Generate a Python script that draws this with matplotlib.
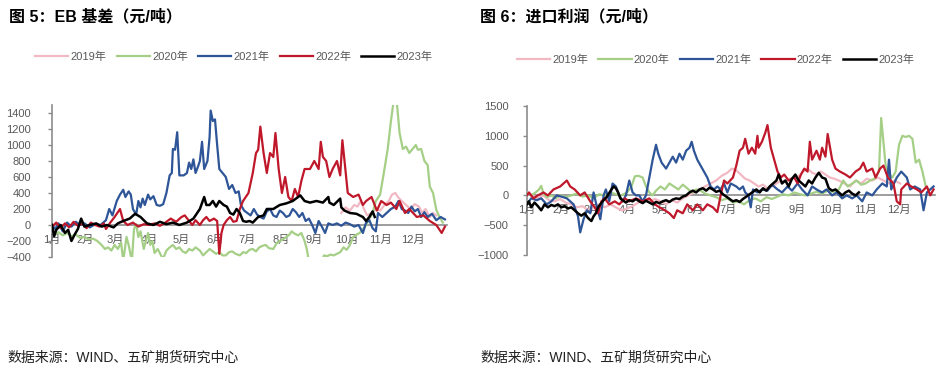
import matplotlib.pyplot as plt

plt.rcParams['font.family'] = ['Liberation Sans', 'Noto Sans CJK SC', 'DejaVu Sans']

# --- 月份刻度 ---
month_days = [0, 31, 59, 90, 120, 151, 181, 212, 243, 273, 304, 334]
month_labels = ['1月', '2月', '3月', '4月', '5月', '6月', '7月', '8月', '9月', '10月', '11月', '12月']
year_labels = ['2019年', '2020年', '2021年', '2022年', '2023年']
year_colors = ['#F2B8C3', '#A5CF86', '#2E5597', '#C0182B', '#000000']

# --- 图5：EB 基差 (day of year, 元/吨) ---
eb19_day = [268, 272, 276, 280, 283, 286, 289, 292, 296, 300, 304, 308, 312, 315, 318, 321, 324, 328,
            332, 336, 340, 343, 346, 350, 353, 356]
eb19_val = [150, 220, 180, 250, 230, 300, 200, 120, 150, 200, 180, 250, 300, 380, 400, 340, 300, 250,
            200, 260, 230, 150, 200, 100, 150, 120]

eb20_day = [0, 3, 6, 10, 14, 18, 22, 26, 30, 34, 38, 42, 46, 49, 52, 55, 58, 61, 64, 66, 69, 71, 74, 76,
            78, 80, 82, 85, 87, 89, 91, 93, 95, 98, 101, 103, 106, 109, 112, 115, 118, 121, 124, 127, 130,
            133, 137, 140, 143, 146, 149, 152, 155, 158, 161, 164, 167, 170, 174, 177, 180, 183, 186, 189,
            192, 195, 198, 201, 205, 208, 211, 214, 217, 220, 222, 225, 228, 231, 234, 236, 238, 245, 250,
            252, 255, 258, 261, 264, 267, 270, 273, 276, 279, 282, 285, 288, 291, 294, 297, 300, 304, 308,
            311, 314, 317, 319, 322, 325, 328, 331, 334, 337, 339, 342, 345, 348, 350, 353, 356, 359, 362]
eb20_val = [-80, -120, -90, -130, -100, -140, -120, -160, -150, -180, -170, -200, -250, -300, -280, -320,
            -250, -300, -220, -450, -150, -250, -450, -50, 10, -150, -80, -300, -200, -100, -250, -200,
            -350, -300, -380, -420, -320, -280, -250, -300, -280, -330, -350, -300, -320, -280, -320, -380,
            -340, -300, -330, -360, -340, -380, -380, -340, -330, -360, -380, -340, -350, -310, -300, -330,
            -280, -260, -250, -290, -300, -230, -200, -180, -150, -120, -80, -110, -130, -100, -200, -300,
            -450, -500, -450, -380, -390, -370, -380, -360, -340, -280, -310, -250, -150, -120, -100, -50,
            0, 80, 150, 300, 380, 700, 950, 1300, 1600, 1600, 1150, 950, 980, 900, 950, 1000, 940, 950, 800,
            750, 480, 400, 190, 100, 30]

eb21_day = [0, 3, 6, 10, 14, 18, 22, 26, 30, 35, 40, 45, 50, 53, 56, 60, 63, 66, 68, 71, 73, 75, 78, 80,
            82, 84, 86, 89, 91, 94, 97, 100, 103, 106, 109, 111, 112, 114, 116, 118, 122, 125, 127, 129, 131,
            133, 135, 137, 139, 141, 144, 146, 147, 149, 151, 153, 155, 158, 161, 164, 167, 170, 173, 175,
            178, 181, 184, 187, 190, 193, 196, 199, 202, 205, 208, 211, 214, 217, 220, 223, 226, 229, 232,
            235, 238, 241, 244, 247, 250, 253, 256, 260, 264, 268, 272, 276, 280, 284, 288, 291, 294, 297,
            300, 302, 306, 310, 314, 318, 321, 324, 327, 330, 333, 336, 339, 342, 345, 348, 352, 356, 360, 364]
eb21_val = [0, -50, 20, -80, 30, -20, 40, 0, 20, -30, 10, 0, 60, 200, 120, 300, 380, 440, 350, 420, 380,
            200, 130, 300, 220, 330, 250, 380, 320, 360, 250, 240, 260, 400, 620, 650, 950, 940, 1160, 620,
            620, 650, 780, 700, 820, 650, 720, 800, 1040, 700, 800, 1100, 1430, 1300, 1320, 1000, 700, 650,
            600, 450, 500, 400, 420, 250, 180, 150, 120, 200, 130, 100, 80, 170, 200, 120, 100, 180, 150,
            100, 120, 200, 160, 100, 150, 50, 80, 0, -100, 50, -20, -100, 20, 0, 20, -10, 30, 10, -20, 0,
            -100, 30, 60, -40, -80, 150, 100, 150, 200, 230, 300, 200, 180, 150, 230, 170, 200, 100, 160,
            100, 140, 60, 100, 70]

eb22_day = [0, 4, 8, 12, 16, 20, 24, 28, 32, 36, 40, 44, 48, 50, 54, 58, 63, 66, 70, 75, 80, 85, 90, 95,
            100, 105, 110, 115, 120, 123, 127, 130, 133, 137, 140, 143, 146, 150, 153, 155, 157, 159, 162,
            165, 168, 171, 174, 177, 182, 186, 189, 191, 193, 196, 199, 202, 205, 207, 210, 213, 216, 219,
            222, 225, 228, 231, 234, 239, 243, 247, 249, 251, 254, 257, 260, 264, 267, 269, 271, 274, 279,
            284, 288, 291, 296, 301, 305, 310, 314, 319, 322, 327, 331, 338, 344, 350, 356, 361, 364]
eb22_val = [-20, 30, -40, 20, -30, 40, -10, 20, -40, 30, 0, -20, 20, -50, 30, 100, 200, 50, 0, 30, -20, 10,
            0, 20, -10, 30, 80, 40, 100, 120, 50, 0, 60, 0, 60, 100, 50, 80, 50, -360, -100, 0, 60, 100,
            40, 50, 200, 300, 400, 650, 900, 940, 1230, 900, 650, 900, 850, 1150, 700, 400, 600, 350, 300,
            450, 350, 550, 700, 700, 800, 700, 1040, 850, 800, 600, 700, 800, 620, 1060, 800, 400, 350, 380,
            250, 300, 350, 180, 300, 250, 280, 200, 300, 150, 200, 100, 120, 50, 0, -100, -20]

eb23_day = [0, 2, 4, 8, 12, 15, 18, 21, 24, 27, 30, 35, 41, 46, 51, 57, 61, 66, 72, 77, 82, 88, 94, 100,
            106, 112, 118, 125, 131, 137, 141, 143, 146, 149, 152, 155, 159, 162, 165, 168, 171, 174, 177,
            180, 183, 186, 191, 196, 199, 205, 211, 217, 223, 230, 234, 239, 245, 251, 256, 257, 261, 267,
            268, 271, 276, 282, 288, 291, 294, 297, 299]
eb23_val = [0, -140, -60, 0, -100, -60, -200, -120, -50, 80, -20, 0, 20, -20, 0, -30, 20, 50, 80, 140, 100,
            20, 0, 40, 10, 30, 0, 30, 80, 200, 350, 250, 250, 300, 230, 300, 250, 230, 150, 130, 200, 150,
            50, 40, 50, 30, 100, 120, 200, 200, 250, 270, 300, 370, 300, 280, 300, 280, 350, 280, 250, 330,
            220, 180, 150, 140, 100, 50, 100, 170, 100]

# --- 图6：进口利润 (day of year, 元/吨) ---
ip19_day = [0, 5, 10, 15, 20, 25, 30, 35, 40, 45, 50, 55, 60, 65, 70, 75, 80, 85, 90, 95, 100, 105, 110,
            115, 120, 125, 130, 135, 140, 145, 150, 155, 160, 165, 170, 175, 180, 184, 188, 192, 196, 200,
            204, 208, 212, 216, 220, 224, 228, 232, 236, 240, 244, 248, 252, 256, 260, 264, 268, 272, 276,
            280, 285, 290, 295, 300, 305, 310, 315, 320, 325, 330, 335]
ip19_val = [50, 0, -50, 0, -80, -100, -60, -120, -150, -200, -180, -250, -200, -150, -200, -150, -200,
            -250, -220, -180, -120, -80, -100, -60, -100, -150, -80, -120, -50, 0, 50, 100, 150, 200, 250,
            330, 380, 450, 420, 350, 280, 250, 200, 150, 180, 120, 150, 200, 250, 230, 280, 300, 320, 400,
            450, 380, 350, 400, 350, 300, 280, 250, 200, 150, 250, 200, 280, 250, 300, 250, 200, 250, 200]

ip20_day = [0, 4, 8, 11, 13, 15, 18, 22, 26, 30, 35, 40, 45, 50, 55, 60, 65, 70, 75, 80, 85, 90, 94, 97,
            100, 104, 107, 110, 113, 116, 120, 124, 128, 132, 136, 140, 144, 148, 152, 156, 160, 165, 170,
            175, 180, 185, 190, 195, 200, 205, 210, 215, 220, 225, 230, 235, 240, 245, 250, 255, 260, 265,
            270, 275, 280, 284, 288, 292, 296, 300, 304, 308, 312, 316, 318, 320, 322, 325, 328, 331, 334,
            337, 340, 343, 346, 349, 352, 355, 358, 361]
ip20_val = [50, 0, 50, 100, 160, 30, -30, 0, -50, 0, -30, 0, 30, -20, 0, -50, 20, 0, 50, 20, 0, 50, 150,
            320, 330, 300, 150, 50, 0, 80, 150, 100, 200, 150, 100, 180, 120, 50, 100, 80, 30, 0, -30, -80,
            -50, -120, -100, -150, -80, -50, -100, -30, -60, -20, 20, 0, 50, 20, 0, 30, 60, 30, 80, 60, 100,
            250, 150, 200, 250, 180, 200, 250, 280, 400, 1300, 900, 500, 350, 300, 400, 850, 1000, 980, 1000,
            950, 550, 600, 400, 150, 80]

ip21_day = [0, 4, 9, 13, 18, 22, 27, 31, 36, 42, 46, 48, 51, 54, 57, 60, 63, 66, 69, 71, 74, 77, 80, 83,
            86, 89, 92, 95, 98, 101, 104, 107, 110, 113, 116, 118, 121, 125, 128, 131, 134, 137, 140, 143,
            146, 148, 150, 153, 156, 159, 162, 165, 168, 171, 174, 177, 180, 183, 188, 191, 194, 196, 199,
            201, 203, 207, 211, 216, 220, 225, 229, 234, 238, 243, 247, 252, 256, 260, 265, 269, 274, 278,
            283, 287, 292, 296, 301, 305, 310, 314, 319, 323, 325, 327, 332, 336, 341, 344, 348, 353, 356,
            359, 362, 365]
ip21_val = [-150, -50, -80, -50, -150, -100, 0, -20, -50, -150, -350, -620, -400, -250, -300, 50, -200,
            -400, 0, 100, -100, 200, 150, 0, -100, 0, 250, 50, 0, 0, -100, 0, 300, 600, 850, 700, 550, 450,
            550, 650, 550, 700, 600, 750, 800, 900, 750, 600, 500, 400, 300, 150, 100, 150, 100, 200, 50,
            200, 150, 100, 150, 50, 0, -200, 100, 50, 100, 80, 180, 100, 50, 150, 80, 200, 100, 0, 150, 100,
            50, 100, 0, 50, -50, 0, -50, 0, -100, 50, 0, 100, 200, 150, 600, 100, 300, 400, 300, 100, 150,
            100, -250, 50, 100, 150]

ip22_day = [0, 2, 6, 10, 15, 19, 24, 30, 36, 39, 43, 48, 52, 57, 61, 64, 67, 70, 74, 79, 83, 88, 92, 98,
            104, 110, 115, 119, 124, 128, 132, 135, 140, 144, 149, 153, 158, 162, 167, 171, 174, 177, 180,
            185, 188, 191, 194, 196, 199, 202, 205, 207, 208, 211, 214, 216, 219, 222, 225, 228, 231, 235,
            240, 243, 246, 249, 252, 254, 256, 260, 263, 265, 268, 270, 274, 277, 281, 286, 290, 295, 299,
            302, 305, 310, 313, 317, 320, 324, 329, 332, 335, 336, 341, 345, 350, 354, 359, 362, 365]
ip22_val = [0, 50, -50, 0, 50, 0, 100, 150, 250, 150, 100, 0, 50, -100, -200, -300, -100, -50, -150,
            -100, -150, -50, -100, -50, -100, -50, -150, -200, -250, -300, -380, -250, -300, -150, -250,
            -150, -250, -150, -200, -280, 0, 250, 200, 300, 500, 750, 800, 950, 700, 800, 700, 1000, 800,
            900, 1050, 1180, 800, 600, 400, 300, 350, 250, 300, 200, 350, 450, 400, 900, 600, 750, 600, 800,
            650, 1030, 600, 450, 400, 350, 300, 400, 450, 550, 400, 450, 300, 450, 500, 300, 200, -100,
            -150, 100, 200, 150, 100, 50, 150, 0, 100]

ip23_day = [0, 2, 4, 7, 10, 13, 16, 19, 22, 25, 28, 31, 34, 37, 40, 43, 46, 49, 52, 55, 58, 60, 62, 64,
            66, 68, 70, 72, 74, 76, 78, 80, 82, 84, 86, 89, 92, 95, 98, 101, 104, 107, 110, 113, 116, 119,
            122, 125, 128, 131, 134, 137, 140, 143, 146, 149, 152, 155, 158, 161, 164, 167, 170, 173, 176,
            179, 182, 185, 188, 191, 194, 197, 200, 203, 206, 209, 212, 215, 218, 221, 224, 226, 229, 232,
            235, 238, 241, 244, 247, 250, 253, 256, 259, 262, 265, 268, 271, 274, 277, 280, 283, 286, 289,
            292, 295, 298]
ip23_val = [-150, -100, -200, -120, -180, -250, -150, -200, -160, -180, -150, -200, -180, -220, -200,
            -250, -300, -340, -300, -380, -430, -350, -300, -200, -150, -100, -60, -20, 40, 100, 150, 120,
            50, -50, -80, -120, -80, -100, -60, -100, -130, -90, -120, -150, -110, -130, -100, -80, -110,
            -70, -50, -60, -20, 0, 50, 80, 50, 100, 120, 80, 130, 100, 60, 80, 20, -20, -60, -100, -80,
            -110, -60, -20, 20, 60, 100, 50, 120, 80, 150, 200, 250, 350, 200, 250, 150, 280, 350, 250, 200,
            150, 250, 200, 300, 380, 300, 280, 120, 80, 100, 50, 0, 50, 80, 30, 0, 50]


def style_axis(ax, yticks, ylim, label_pad):
    ax.set_xlim(0, 366)
    ax.set_ylim(*ylim)
    ax.set_yticks(yticks)
    ax.set_xticks(month_days)
    ax.set_xticklabels(month_labels)
    ax.spines['top'].set_visible(False)
    ax.spines['right'].set_visible(False)
    ax.spines['bottom'].set_position(('data', 0))
    for s in ('left', 'bottom'):
        ax.spines[s].set_color('#8C8C8C')
        ax.spines[s].set_linewidth(1.2)
        ax.spines[s].set_zorder(1)
    ax.tick_params(axis='x', length=0, pad=7, labelsize=8, labelcolor='#595959')
    ax.tick_params(axis='y', length=3, width=1, color='#8C8C8C', pad=label_pad,
                   labelsize=8, labelcolor='#595959')


def draw_panel(ax, series):
    for (days, vals), color, label in zip(series, year_colors, year_labels):
        lw = 1.8 if label == '2023年' else 1.6
        ax.plot(days, vals, color=color, lw=lw, label=label, zorder=3)


fig = plt.figure(figsize=(9.47, 3.75), dpi=100)

# --- 左图：EB 基差 ---
ax1 = fig.add_axes([0.0549, 0.3147, 0.4172, 0.4053])
draw_panel(ax1, [(eb19_day, eb19_val), (eb20_day, eb20_val), (eb21_day, eb21_val),
                 (eb22_day, eb22_val), (eb23_day, eb23_val)])
style_axis(ax1, list(range(-400, 1401, 200)), (-400, 1500), 12)

# --- 右图：进口利润 ---
ax2 = fig.add_axes([0.5562, 0.32, 0.4308, 0.3973])
draw_panel(ax2, [(ip19_day, ip19_val), (ip20_day, ip20_val), (ip21_day, ip21_val),
                 (ip22_day, ip22_val), (ip23_day, ip23_val)])
style_axis(ax2, list(range(-1000, 1501, 500)), (-1000, 1500), 10)

# --- 图例 ---
for ax, cx, cy in [(ax1, 0.247, 0.848), (ax2, 0.7556, 0.84)]:
    handles, labels = ax.get_legend_handles_labels()
    fig.legend(handles, labels, loc='center', bbox_to_anchor=(cx, cy), ncol=5, frameon=False,
               fontsize=8, handlelength=3.0, handletextpad=0.2, columnspacing=0.9,
               labelcolor='#595959')

# --- 标题与来源 ---
fig.text(0.009, 0.957, '图 5：EB 基差（元/吨）', fontsize=11.5, fontweight='bold', va='center')
fig.text(0.507, 0.957, '图 6：进口利润（元/吨）', fontsize=11.5, fontweight='bold', va='center')
fig.text(0.008, 0.045, '数据来源：WIND、五矿期货研究中心', fontsize=10, va='center', color='#222222')
fig.text(0.507, 0.045, '数据来源：WIND、五矿期货研究中心', fontsize=10, va='center', color='#222222')

plt.savefig('out.png', dpi=100)
